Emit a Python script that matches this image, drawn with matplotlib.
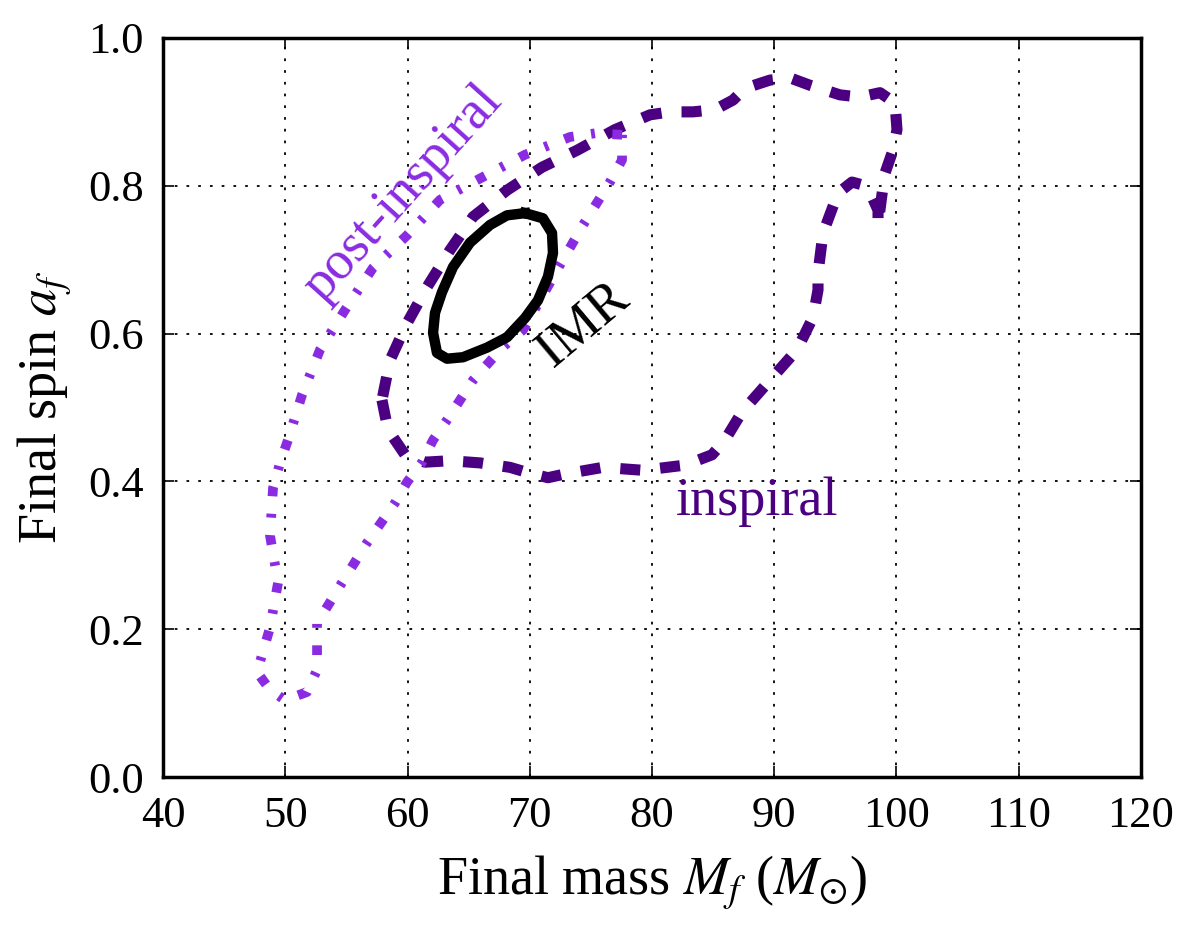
import numpy as np
import matplotlib.pyplot as plt

plt.rcParams['font.family'] = ['Liberation Serif', 'DejaVu Serif']
plt.rcParams['mathtext.fontset'] = 'stix'

# 90% credible contours (final mass, final spin)
imr_m = [69.61, 71.08, 71.82, 71.90, 71.49, 70.67, 69.61, 68.14, 66.50, 64.54,
         63.23, 62.41, 62.09, 62.25, 62.82, 63.72, 65.11, 66.75, 68.14, 69.61]
imr_a = [0.763, 0.756, 0.736, 0.709, 0.677, 0.645, 0.621, 0.595, 0.581, 0.568,
         0.566, 0.574, 0.601, 0.628, 0.656, 0.690, 0.723, 0.747, 0.760, 0.763]

insp_m = [57.91, 58.40, 59.80, 61.43, 63.48, 65.93, 68.38, 70.02, 71.49, 72.88,
          75.99, 79.26, 82.70, 84.91, 85.97, 87.36, 89.65, 91.86, 93.17, 93.58,
          93.58, 93.99, 95.21, 96.36, 97.26, 98.00, 98.49, 98.49, 98.81, 99.06,
          99.71, 100.04, 99.88, 98.65, 97.01, 95.38, 92.92, 91.29, 89.65, 87.61,
          86.63, 85.15, 83.35, 81.47, 79.84, 76.97, 73.87, 71.00, 68.14, 65.36,
          63.48, 61.60, 59.96, 58.57, 57.91]
insp_a = [0.510, 0.470, 0.436, 0.426, 0.428, 0.425, 0.419, 0.411, 0.405, 0.410,
          0.419, 0.415, 0.422, 0.436, 0.456, 0.494, 0.537, 0.578, 0.622, 0.659,
          0.682, 0.736, 0.790, 0.805, 0.801, 0.785, 0.767, 0.747, 0.788, 0.817,
          0.848, 0.876, 0.912, 0.926, 0.920, 0.923, 0.936, 0.946, 0.943, 0.932,
          0.916, 0.903, 0.900, 0.900, 0.896, 0.876, 0.848, 0.825, 0.794, 0.758,
          0.713, 0.663, 0.614, 0.564, 0.510]

post_m = [77.55, 75.34, 73.29, 69.61, 66.18, 62.66, 59.96, 57.18, 54.89, 52.84,
          51.37, 50.22, 49.57, 49.00, 48.75, 49.41, 48.75, 47.69, 48.75, 49.98,
          51.78, 52.60, 52.60, 54.64, 56.69, 58.98, 59.96, 61.19, 62.09, 63.23,
          65.36, 67.81, 69.45, 70.84, 72.48, 74.36, 76.56, 77.55, 77.55]
post_a = [0.869, 0.871, 0.866, 0.842, 0.812, 0.781, 0.733, 0.689, 0.632, 0.578,
          0.517, 0.456, 0.425, 0.391, 0.327, 0.263, 0.202, 0.142, 0.118, 0.104,
          0.115, 0.145, 0.208, 0.263, 0.317, 0.371, 0.399, 0.426, 0.456, 0.483,
          0.537, 0.582, 0.605, 0.645, 0.693, 0.747, 0.805, 0.835, 0.869]

fig = plt.figure(figsize=(11.96, 9.26), dpi=100)
ax = fig.add_axes([0.1363, 0.1609, 0.8177, 0.7981])

ax.plot(insp_m, insp_a, color='#4B0082', lw=8, dashes=(1.8, 1.8),
        dash_joinstyle='round')
ax.plot(post_m, post_a, color='#8A2BE2', lw=7, dashes=(1.0, 1.8, 0.4, 1.8),
        dash_joinstyle='round')
ax.plot(imr_m, imr_a, color='black', lw=7.5, solid_joinstyle='round')

ax.text(59.6, 0.79, 'post-inspiral', color='#8A2BE2', fontsize=39,
        rotation=48, ha='center', va='center')
ax.text(74.4, 0.612, 'IMR', color='black', fontsize=39,
        rotation=40, ha='center', va='center')
ax.text(88.6, 0.372, 'inspiral', color='#4B0082', fontsize=39,
        ha='center', va='center')

ax.set_xlim(40, 120)
ax.set_ylim(0, 1)
ax.set_xticks(np.arange(40, 121, 10))
ax.set_yticks(np.arange(0, 1.01, 0.2))
ax.set_yticklabels(['0.0', '0.2', '0.4', '0.6', '0.8', '1.0'])
ax.tick_params(direction='in', top=True, right=True, labelsize=32,
               length=8, width=1.2, pad=14)
ax.grid(True, color='black', linestyle=(0, (1.5, 5)), lw=1.3)
for s in ax.spines.values():
    s.set_linewidth(2.5)

ax.set_xlabel(r'Final mass $M_f$ ($M_{\odot}$)', fontsize=39, labelpad=12)
ax.set_ylabel(r'Final spin $a_f$', fontsize=39, labelpad=10)

fig.savefig('out.png', dpi=100)
